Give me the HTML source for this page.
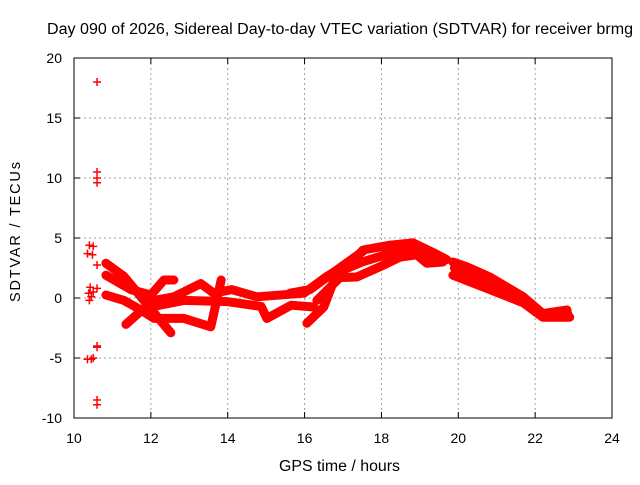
<!DOCTYPE html>
<html><head><meta charset="utf-8"><style>
body{margin:0;background:#fff;}
svg text{font-family:"Liberation Sans",sans-serif;font-size:14px;fill:#000;}
</style></head><body>
<svg id="chart" width="640" height="480" viewBox="0 0 640 480">
<rect width="640" height="480" fill="#fff"/>
<g id="grid"></g>
<g id="series"></g>
<rect x="74" y="58" width="538" height="360" fill="none" stroke="#000" stroke-width="1"/>
<g id="ticks"></g>
<text x="47" y="34" style="font-size:15.5px" textLength="586" lengthAdjust="spacingAndGlyphs">Day 090 of 2026, Sidereal Day-to-day VTEC variation (SDTVAR) for receiver brmg</text>
<text x="279" y="471" style="font-size:15.5px" textLength="121" lengthAdjust="spacingAndGlyphs">GPS time / hours</text>
<text transform="translate(20,302) rotate(-90)" style="font-size:14.5px" textLength="140" lengthAdjust="spacing">SDTVAR / TECUs</text>
</svg>
<script>
const xTicks=[10,12,14,16,18,20,22,24];
const yTicks=[-10,-5,0,5,10,15,20];
// tracks: [hour, value] pairs
const trackA=[[10.83,2.9],[11.3,1.8],[11.74,0.1],[12.1,-1.3],[12.52,-2.9]];
const trackB=[[10.83,1.9],[11.48,0.7],[12.0,0.25],[12.34,1.5],[12.6,1.5]];
const trackC=[[10.83,0.25],[11.3,-0.2],[11.74,-1.0],[12.08,-1.7],[12.86,-1.7],[13.56,-2.4],[13.83,1.5]];
const trackD=[[11.35,-2.2],[11.7,-1.2],[12.08,-0.2],[12.6,0.1],[13.3,1.2],[13.64,0.4],[14.1,0.7],[14.76,0.1],[15.98,0.4],[16.58,1.8],[17.29,3.2],[17.52,4.0],[18.22,4.4],[18.82,4.6],[19.34,3.8],[19.7,3.2]];
const trackE=[[12.0,-0.75],[12.86,-0.2],[13.98,-0.3],[14.87,-0.7],[15.02,-1.7]];
const trackE2=[[15.02,-1.7],[15.65,-0.6],[16.24,-0.75]];
const trackF=[[16.06,-2.1],[16.5,-0.75],[16.77,1.5]];
const trackG=[[15.62,0.4],[16.14,0.7],[16.74,2.1],[17.52,3.9]];
const trackH=[[16.32,-0.2],[16.92,1.7],[17.36,1.75],[17.96,2.6],[18.48,3.4],[18.92,3.6],[19.18,2.9],[19.6,3.0]];
const trackK=[[16.9,2.2],[17.5,3.0],[18.1,3.6],[18.7,4.0],[19.3,3.5]];
const trackI=[[19.86,3.0],[20.22,2.6],[20.82,1.75],[21.27,0.9],[21.69,0.1],[22.2,-1.3],[22.83,-1.0]];
const trackJ=[[19.86,1.9],[20.82,0.7],[21.69,-0.4],[22.2,-1.6],[22.9,-1.6]];
const trackL=[[19.9,2.5],[20.8,1.2],[21.7,-0.2],[22.2,-1.4],[22.85,-1.3]];
const tracks=[trackA,trackB,trackC,trackD,trackE,trackE2,trackF,trackG,trackH,trackK,trackI,trackJ,trackL];
const scatterH=[10.6,10.6,10.6,10.6,10.6,10.6,10.6,10.6,10.4,10.5,10.35,10.48,10.6,10.35,10.45,10.5,10.42,10.6,10.38,10.5,10.45,10.4];
const scatterV=[18,10.5,10.0,9.6,-8.5,-8.9,-4.0,2.75,4.4,4.3,3.7,3.6,-4.1,-5.1,-5.1,-5.0,0.9,0.8,0.4,0.5,0.1,-0.2];
const X=h=>74+(h-10)*538/14, Y=v=>298-v*12;
const ns='http://www.w3.org/2000/svg';
const grid=document.getElementById('grid'),ticks=document.getElementById('ticks'),ser=document.getElementById('series');
function mk(tag,at,p){const e=document.createElementNS(ns,tag);for(const k in at)e.setAttribute(k,at[k]);p.appendChild(e);return e;}
xTicks.forEach(t=>{const x=X(t);
 if(t>10&&t<24){const g=mk('line',{x1:x,x2:x,y1:58,y2:418,stroke:'#a0a0a0','stroke-dasharray':'2,3'},grid);
 
 }
 mk('line',{x1:x,x2:x,y1:418,y2:412,stroke:'#000'},ticks);mk('line',{x1:x,x2:x,y1:58,y2:64,stroke:'#000'},ticks);
 const l=mk('text',{x:x,y:443,'text-anchor':'middle'},ticks);l.textContent=t;
 
 });
yTicks.forEach(t=>{const y=Y(t);
 if(t>-10&&t<20){const g=mk('line',{x1:74,x2:612,y1:y,y2:y,stroke:'#a0a0a0','stroke-dasharray':'2,3'},grid);
 
 }
 mk('line',{x1:74,x2:80,y1:y,y2:y,stroke:'#000'},ticks);mk('line',{x1:612,x2:606,y1:y,y2:y,stroke:'#000'},ticks);
 const l=mk('text',{x:62,y:y+5,'text-anchor':'end'},ticks);l.textContent=t;
 
 });
function plus(x,y){return `M${x-4},${y}h8M${x},${y-4}v8`;}
tracks.forEach((tr,i)=>{
 const p=mk('polyline',{points:tr.map(d=>X(d[0])+','+Y(d[1])).join(' '),fill:'none',stroke:'#ff0000','stroke-width':9,'stroke-linejoin':'round','stroke-linecap':'round'},ser);
 
 
});
let d='';scatterH.forEach((h,i)=>{d+=plus(X(h),Y(scatterV[i]));});
const s=mk('path',{d:d,stroke:'#ff0000','stroke-width':1.5,fill:'none'},ser);


</script>
</body></html>
